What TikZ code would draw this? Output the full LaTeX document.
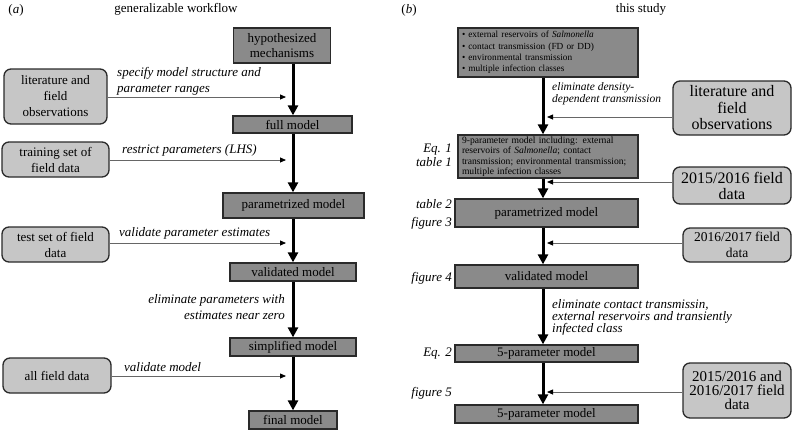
\documentclass[tikz,border=0pt]{standalone}
\usepackage{fontspec}
\setmainfont{Liberation Serif}
\usetikzlibrary{arrows.meta}
\definecolor{darkbox}{HTML}{8A8A8A}
\definecolor{lightbox}{HTML}{C6C6C6}
\definecolor{edgecol}{HTML}{2A2A2A}
\definecolor{thincol}{HTML}{666666}
\begin{document}
\begin{tikzpicture}[x=1pt,y=-1pt,
 mainbox/.style={draw=edgecol, line width=1.3pt, fill=darkbox, inner sep=0pt, align=center, font=\fontsize{13}{15}\selectfont},
 sidebox/.style={draw=edgecol, line width=1.3pt, fill=lightbox, rounded corners=7pt, inner sep=0pt, align=center, font=\fontsize{13}{16}\selectfont},
 mainflow/.style={line width=3pt, -{Triangle[width=10pt,length=10pt]}},
 feed/.style={draw=thincol, line width=0.8pt, -{Triangle[width=5pt,length=6pt,color=black]}},
 lbl/.style={font=\fontsize{13}{16}\itshape\selectfont, inner sep=0pt},
 ttl/.style={font=\fontsize{13}{16}\selectfont, inner sep=0pt},
]
\useasboundingbox (0,0) rectangle (792,431);
% titles
\node[ttl] (ta) at (16,10) {(\textit{a})};
\node[ttl] (tga) at (176,9) {generalizable workflow};
\node[ttl] (tb) at (409,10) {(\textit{b})};
\node[ttl] (tgb) at (641,9) {this study};

% ---------- left panel ----------
\coordinate (lx) at (293,0);
\node[mainbox, minimum width=97pt, minimum height=35pt] (hyp) at (282,45.5) {hypothesized\\mechanisms};
\node[mainbox, minimum width=119pt, minimum height=17pt] (full) at (292.5,124.5) {full model};
\node[mainbox, minimum width=141pt, minimum height=25pt] (param) at (293.5,205.5) {parametrized model};
\node[mainbox, minimum width=126pt, minimum height=18pt] (valid) at (293,272) {validated model};
\node[mainbox, minimum width=126pt, minimum height=18pt] (simp) at (293,347) {simplified model};
\node[mainbox, minimum width=88pt, minimum height=18pt] (final) at (293,420) {final model};

\node[sidebox, minimum width=103pt, minimum height=55pt] (lit) at (55.5,96.5) {literature and\\field\\observations};
\node[sidebox, minimum width=107pt, minimum height=35pt] (train) at (55.5,159.5) {training set of\\field data};
\node[sidebox, minimum width=107pt, minimum height=35pt] (test) at (55.5,244.5) {test set of field\\data};
\node[sidebox, minimum width=108pt, minimum height=35pt] (all) at (57,375.5) {all field data};

\draw[mainflow] (hyp.south -| lx) -- (full.north -| lx);
\draw[mainflow] (full.south -| lx) -- (param.north -| lx);
\draw[mainflow] (param.south -| lx) -- (valid.north -| lx);
\draw[mainflow] (valid.south -| lx) -- (simp.north -| lx);
\draw[mainflow] (simp.south -| lx) -- (final.north -| lx);

\coordinate (e1) at (286,97);
\coordinate (e2) at (286,160);
\coordinate (e3) at (286,243);
\coordinate (e4) at (286,376);
\draw[feed] (e1 -| lit.east) -- (e1);
\draw[feed] (e2 -| train.east) -- (e2);
\draw[feed] (e3 -| test.east) -- (e3);
\draw[feed] (e4 -| all.east) -- (e4);

\node[lbl, anchor=west, align=left] (l1) at (117,81) {specify model structure and\\parameter ranges};
\node[lbl, anchor=west] (l2) at (122,150) {restrict parameters ({\itshape LHS})};
\node[lbl, anchor=west] (l3) at (119,233) {validate parameter estimates};
\node[lbl, anchor=east, align=right] (l4) at (285,307) {eliminate parameters with\\estimates near zero};
\node[lbl, anchor=west] (l5) at (124,367) {validate model};

% ---------- right panel ----------
\coordinate (rx) at (543,0);
\node[mainbox, minimum width=180pt, minimum height=49pt, text width=172pt, align=left, font=\fontsize{9.3}{11.4}\selectfont] (top) at (548,52.5)
 {\textbullet\ external reservoirs of \textit{Salmonella}\\
  \textbullet\ contact transmission (FD or DD)\\
  \textbullet\ environmental transmission\\
  \textbullet\ multiple infection classes};
\node[mainbox, minimum width=180pt, minimum height=43pt, text width=172pt, align=left, font=\fontsize{9.6}{10.5}\selectfont] (nine) at (548,156.5)
 {9-parameter model including: external\\reservoirs of \textit{Salmonella}; contact\\transmission; environmental transmission;\\multiple infection classes};
\node[mainbox, minimum width=183pt, minimum height=28pt] (rparam) at (546.5,213) {parametrized model};
\node[mainbox, minimum width=183pt, minimum height=23pt] (rvalid) at (546.5,276.5) {validated model};
\node[mainbox, minimum width=183pt, minimum height=17pt] (five1) at (546.5,353.5) {5-parameter model};
\node[mainbox, minimum width=183pt, minimum height=18pt] (five2) at (546.5,414) {5-parameter model};

\node[sidebox, minimum width=118pt, minimum height=54pt, font=\fontsize{16}{16.5}\selectfont] (rlit) at (732,108) {literature and\\field\\observations};
\node[sidebox, minimum width=118pt, minimum height=37pt, font=\fontsize{16}{16}\selectfont] (d1516) at (732,185.5) {2015/2016 field\\data};
\node[sidebox, minimum width=108pt, minimum height=34pt, font=\fontsize{13.5}{16.5}\selectfont] (d1617) at (737,245) {2016/2017 field\\data};
\node[sidebox, minimum width=108pt, minimum height=55pt, font=\fontsize{15}{14}\selectfont] (dboth) at (737,390.5) {2015/2016 and\\2016/2017 field\\data};

\draw[mainflow] (top.south -| rx) -- (nine.north -| rx);
\draw[mainflow] (nine.south -| rx) -- (rparam.north -| rx);
\draw[mainflow] (rparam.south -| rx) -- (rvalid.north -| rx);
\draw[mainflow] (rvalid.south -| rx) -- (five1.north -| rx);
\draw[mainflow] (five1.south -| rx) -- (five2.north -| rx);

\coordinate (f1) at (547,117);
\coordinate (f2) at (547,182);
\coordinate (f3) at (547,243);
\coordinate (f4) at (547,392);
\draw[feed] (f1 -| rlit.west) -- (f1);
\draw[feed] (f2 -| d1516.west) -- (f2);
\draw[feed] (f3 -| d1617.west) -- (f3);
\draw[feed] (f4 -| dboth.west) -- (f4);

\node[lbl, anchor=west, align=left, font=\fontsize{11.5}{12}\itshape\selectfont] (r1) at (552,94) {eliminate density-\\dependent transmission};
\node[lbl, anchor=west, align=left, font=\fontsize{13}{12}\itshape\selectfont] (r2) at (552,317) {eliminate contact transmissin,\\external reservoirs and transiently\\infected class};

\node[lbl, anchor=east, align=right, font=\fontsize{13}{14}\itshape\selectfont] (q1) at (452,155) {Eq. 1\\table 1};
\node[lbl, anchor=east] (q2) at (452,204) {table 2};
\node[lbl, anchor=east] (q3) at (452,223) {figure 3};
\node[lbl, anchor=east] (q4) at (452,278) {figure 4};
\node[lbl, anchor=east] (q5) at (452,354) {Eq. 2};
\node[lbl, anchor=east] (q6) at (452,393) {figure 5};
\end{tikzpicture}
\end{document}
